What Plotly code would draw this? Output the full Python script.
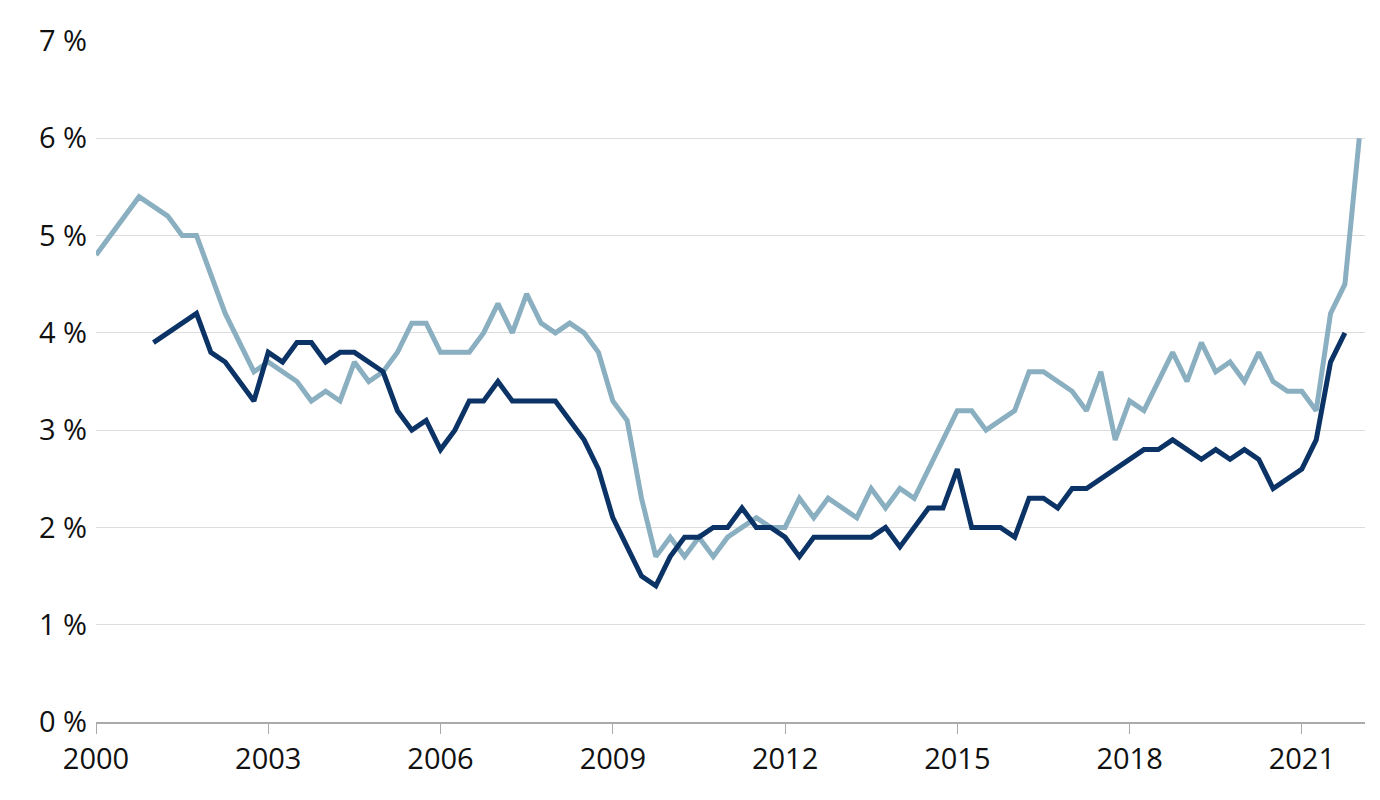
import plotly.graph_objects as go

# quarter index (0 = 2000) and values in %
light_q = [0, 3, 5, 6, 7, 9, 11, 12, 14, 15, 16, 17, 18, 19, 20, 21, 22, 23, 24, 26, 27, 28, 29, 30,
           31, 32, 33, 34, 35, 36, 37, 38, 39, 40, 41, 42, 43, 44, 45, 46, 47, 48, 49, 50, 51, 53,
           54, 55, 56, 57, 60, 61, 62, 64, 65, 66, 68, 69, 70, 71, 72, 73, 75, 76, 77, 78, 79, 80,
           81, 82, 83, 84, 85, 86, 87, 88]
light_v = [4.8, 5.4, 5.2, 5.0, 5.0, 4.2, 3.6, 3.7, 3.5, 3.3, 3.4, 3.3, 3.7, 3.5, 3.6, 3.8, 4.1, 4.1,
           3.8, 3.8, 4.0, 4.3, 4.0, 4.4, 4.1, 4.0, 4.1, 4.0, 3.8, 3.3, 3.1, 2.3, 1.7, 1.9, 1.7, 1.9,
           1.7, 1.9, 2.0, 2.1, 2.0, 2.0, 2.3, 2.1, 2.3, 2.1, 2.4, 2.2, 2.4, 2.3, 3.2, 3.2, 3.0, 3.2,
           3.6, 3.6, 3.4, 3.2, 3.6, 2.9, 3.3, 3.2, 3.8, 3.5, 3.9, 3.6, 3.7, 3.5, 3.8, 3.5, 3.4, 3.4,
           3.2, 4.2, 4.5, 6.0]

dark_q = [4, 7, 8, 9, 11, 12, 13, 14, 15, 16, 17, 18, 20, 21, 22, 23, 24, 25, 26, 27, 28, 29, 32,
          34, 35, 36, 38, 39, 40, 41, 42, 43, 44, 45, 46, 47, 48, 49, 50, 54, 55, 56, 58, 59, 60,
          61, 63, 64, 65, 66, 67, 68, 69, 73, 74, 75, 77, 78, 79, 80, 81, 82, 84, 85, 86, 87]
dark_v = [3.9, 4.2, 3.8, 3.7, 3.3, 3.8, 3.7, 3.9, 3.9, 3.7, 3.8, 3.8, 3.6, 3.2, 3.0, 3.1, 2.8, 3.0,
          3.3, 3.3, 3.5, 3.3, 3.3, 2.9, 2.6, 2.1, 1.5, 1.4, 1.7, 1.9, 1.9, 2.0, 2.0, 2.2, 2.0, 2.0,
          1.9, 1.7, 1.9, 1.9, 2.0, 1.8, 2.2, 2.2, 2.6, 2.0, 2.0, 1.9, 2.3, 2.3, 2.2, 2.4, 2.4, 2.8,
          2.8, 2.9, 2.7, 2.8, 2.7, 2.8, 2.7, 2.4, 2.6, 2.9, 3.7, 4.0]

year_ticks = [2000, 2003, 2006, 2009, 2012, 2015, 2018, 2021]
pct_ticks = [0, 1, 2, 3, 4, 5, 6, 7]

fig = go.Figure()
fig.add_trace(go.Scatter(x=[2000 + q / 4 for q in light_q], y=light_v, mode="lines",
                         line=dict(color="#8aafc0", width=5)))
fig.add_trace(go.Scatter(x=[2000 + q / 4 for q in dark_q], y=dark_v, mode="lines",
                         line=dict(color="#0b3366", width=5)))

fig.update_layout(
    width=1380, height=800, showlegend=False,
    plot_bgcolor="white", paper_bgcolor="white",
    margin=dict(l=88, r=23, t=27, b=86),
    font=dict(family="Open Sans", size=29, color="#111111"),
    xaxis=dict(range=[2000, 2022.1], tickvals=year_ticks, showgrid=False,
               showline=True, linecolor="#aaaaaa", linewidth=1.5,
               ticks="outside", tickcolor="#aaaaaa", ticklen=10),
    yaxis=dict(range=[0, 7], tickvals=pct_ticks, ticktext=[f"{v} %" for v in pct_ticks],
               showgrid=True, gridcolor="#dddddd", zeroline=False, ticks="", ticklabelstandoff=8),
)
fig.write_html("out.html")
